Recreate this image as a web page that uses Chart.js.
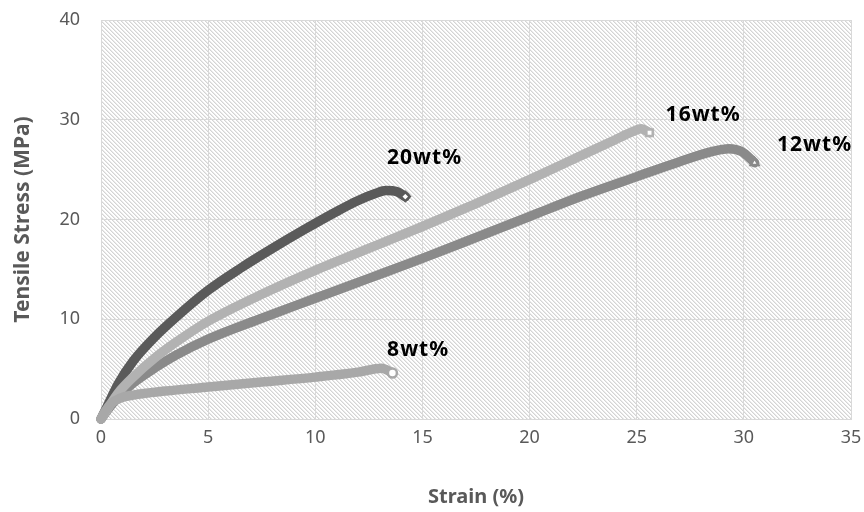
<!DOCTYPE html>
<html>
<head>
<meta charset="utf-8">
<script src="https://cdn.jsdelivr.net/npm/chart.js@4.4.1/dist/chart.umd.min.js"></script>
<style>
  html, body { margin: 0; padding: 0; background: #ffffff; }
  #wrap { width: 864px; height: 512px; }
</style>
</head>
<body>
<div id="wrap"><canvas id="chart" width="864" height="512"></canvas></div>
<script>
// Tensile stress–strain curves for four filler loadings
const seriesNames = ['20wt%', '16wt%', '12wt%', '8wt%'];

const strain20 = [0, 0.3, 0.8, 1.5, 2.5, 3.5, 5, 6.5, 8, 9.5, 11, 12, 12.8, 13.3, 13.8, 14.2];
const stress20 = [0, 1.3, 3.5, 5.8, 8.2, 10.2, 12.9, 15.1, 17.1, 19.0, 20.8, 21.9, 22.6, 22.9, 22.8, 22.3];

const strain16 = [0, 0.3, 0.8, 1.5, 2.5, 3.5, 5, 7.5, 10, 12.5, 15, 17.5, 20, 22.5, 24, 24.8, 25.2, 25.6];
const stress16 = [0, 1.0, 2.6, 4.2, 6.1, 7.7, 9.8, 12.5, 14.9, 17.1, 19.3, 21.6, 24.0, 26.5, 28.0, 28.8, 29.1, 28.7];

const strain12 = [0, 0.3, 0.8, 1.5, 2.5, 3.5, 5, 7.5, 10, 12.5, 15, 17.5, 20, 22.5, 25, 27, 28.5, 29.3, 29.9, 30.5];
const stress12 = [0, 0.9, 2.2, 3.6, 5.1, 6.4, 8.0, 10.1, 12.1, 14.1, 16.1, 18.2, 20.3, 22.4, 24.3, 25.8, 26.8, 27.1, 26.8, 25.7];

const strain8 = [0, 0.2, 0.5, 0.9, 1.5, 3, 5, 7.5, 10, 12, 13.1, 13.6];
const stress8 = [0, 0.8, 1.6, 2.1, 2.4, 2.8, 3.2, 3.7, 4.2, 4.7, 5.1, 4.6];

// where each series name is written (strain, stress)
const labelStrain = [15.1, 28.1, 33.3, 14.8];
const labelStress = [26.2, 30.5, 27.5, 6.9];

const xTicks = [0, 5, 10, 15, 20, 25, 30, 35];
const yTicks = [0, 10, 20, 30, 40];

const colors = ['#5a5a5a', '#b2b2b2', '#8a8a8a', '#a8a8a8'];
const endStyles = ['rectRot', 'rect', 'triangle', 'circle'];
const layerOrder = [3, 1, 2, 0];

function pairs(xs, ys) { return xs.map((x, i) => ({ x: x, y: ys[i] })); }
const allStrain = [strain20, strain16, strain12, strain8];
const allStress = [stress20, stress16, stress12, stress8];

const datasets = seriesNames.map((name, s) => {
  const n = allStrain[s].length;
  return {
    label: name,
    data: pairs(allStrain[s], allStress[s]),
    borderColor: colors[s],
    borderWidth: 9.5,
    borderCapStyle: 'round',
    borderJoinStyle: 'round',
    cubicInterpolationMode: 'monotone',
    pointStyle: endStyles[s],
    pointRadius: ctx => (ctx.dataIndex === n - 1 ? 4.5 : 0),
    pointBackgroundColor: '#ffffff',
    pointBorderColor: colors[s],
    pointBorderWidth: 2.5,
    pointHoverRadius: 0,
    clip: 8,
    order: layerOrder[s]
  };
});

// diagonal hatch for the plotting area
function makeHatch() {
  const c = document.createElement('canvas');
  c.width = 4; c.height = 4;
  const g = c.getContext('2d');
  const img = g.createImageData(4, 4);
  for (let y = 0; y < 4; y++) {
    for (let x = 0; x < 4; x++) {
      const d = ((x - y) % 4 + 4) % 4;
      const v = d === 0 ? 212 : (d === 1 ? 234 : 255);
      const k = (y * 4 + x) * 4;
      img.data[k] = v; img.data[k + 1] = v; img.data[k + 2] = v; img.data[k + 3] = 255;
    }
  }
  g.putImageData(img, 0, 0);
  return c;
}

const hatchBackground = {
  id: 'hatchBackground',
  beforeDraw(chart) {
    const { ctx, chartArea: a } = chart;
    ctx.save();
    ctx.fillStyle = ctx.createPattern(makeHatch(), 'repeat');
    ctx.fillRect(a.left, a.top, a.right - a.left, a.bottom - a.top);
    ctx.restore();
  }
};

const seriesLabels = {
  id: 'seriesLabels',
  afterDatasetsDraw(chart) {
    const { ctx, scales } = chart;
    ctx.save();
    ctx.font = 'bold 21px "Noto Sans", sans-serif';
    if ('letterSpacing' in ctx) ctx.letterSpacing = '1px';
    ctx.fillStyle = '#000000';
    ctx.textAlign = 'center';
    ctx.textBaseline = 'middle';
    seriesNames.forEach((name, s) => {
      ctx.fillText(name, scales.x.getPixelForValue(labelStrain[s]), scales.y.getPixelForValue(labelStress[s]));
    });
    ctx.restore();
  }
};

const tickFont = { family: '"Noto Sans", sans-serif', size: 18 };

new Chart(document.getElementById('chart'), {
  type: 'line',
  data: { datasets: datasets },
  options: {
    responsive: false,
    animation: false,
    events: [],
    layout: { padding: { top: 20, right: 13, left: 0, bottom: 0 } },
    plugins: { legend: { display: false }, tooltip: { enabled: false } },
    scales: {
      x: {
        type: 'linear',
        min: 0, max: 35,
        afterBuildTicks: sc => { sc.ticks = xTicks.map(v => ({ value: v })); },
        afterFit: sc => { sc.height = 93; sc.paddingLeft = 0; sc.paddingRight = 0; },
        grid: { color: '#d9d9d9', lineWidth: 1, drawTicks: false },
        border: { color: '#d9d9d9', width: 1 },
        ticks: { color: '#595959', font: tickFont, padding: 8, maxRotation: 0 },
        title: { display: true, text: 'Strain (%)', color: '#595959',
                 font: { family: '"Noto Sans", sans-serif', size: 20, weight: 'bold' },
                 padding: { top: 0, bottom: 3 } }
      },
      y: {
        type: 'linear',
        min: 0, max: 40,
        afterBuildTicks: sc => { sc.ticks = yTicks.map(v => ({ value: v })); },
        afterFit: sc => { sc.width = 101; sc.paddingTop = 0; sc.paddingBottom = 0; },
        grid: { color: '#d9d9d9', lineWidth: 1, drawTicks: false },
        border: { color: '#d9d9d9', width: 1 },
        ticks: { color: '#595959', font: tickFont, padding: 21 },
        title: { display: true, text: 'Tensile Stress (MPa)', color: '#595959',
                 font: { family: '"Noto Sans", sans-serif', size: 21, weight: 'bold' },
                 padding: { top: 10, bottom: 0 } }
      }
    }
  },
  plugins: [hatchBackground, seriesLabels]
});
</script>
</body>
</html>
